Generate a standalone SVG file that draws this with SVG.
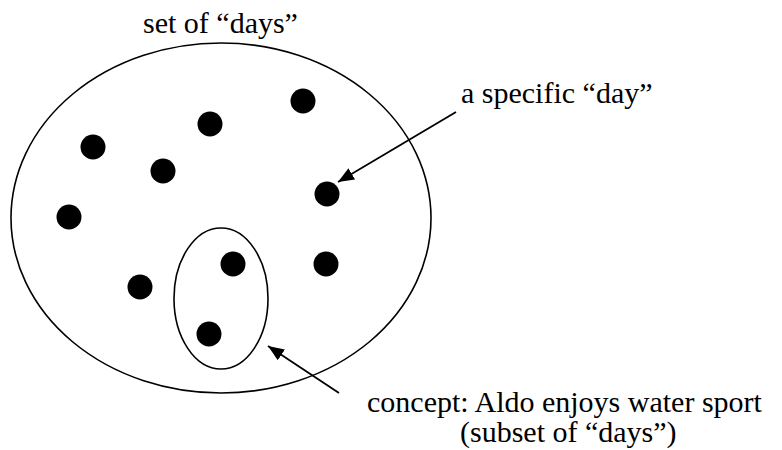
<svg xmlns="http://www.w3.org/2000/svg" width="782" height="450" viewBox="0 0 782 450">
<style>
.set{fill:none;stroke:#000;stroke-width:1.6}
.dot{fill:#000}
.lbl{font-family:"Liberation Serif","Times New Roman",serif;font-size:30px;fill:#000}
.conn{stroke:#000;stroke-width:1.8;fill:none}
</style>
<defs>
<marker id="ah" markerUnits="userSpaceOnUse" markerWidth="18" markerHeight="14" refX="16" refY="6.5" orient="auto">
<path d="M0,0 L16,6.5 L0,13 z" fill="#000"/>
</marker>
</defs>
<rect width="782" height="450" fill="#fff"/>
<g id="days-set">
<ellipse class="set" cx="221" cy="218" rx="210" ry="175"/>
<text class="lbl" x="143" y="33">set of “days”</text>
</g>
<g id="concept-subset">
<ellipse class="set" cx="221" cy="298.5" rx="47" ry="70.5"/>
</g>
<g id="days">
<circle class="dot" cx="303" cy="101" r="12.5"/>
<circle class="dot" cx="210" cy="124" r="12.5"/>
<circle class="dot" cx="93" cy="147" r="12.5"/>
<circle class="dot" cx="163" cy="171" r="12.5"/>
<circle class="dot" cx="327" cy="194" r="12.5"/>
<circle class="dot" cx="69" cy="217" r="12.5"/>
<circle class="dot" cx="233" cy="264" r="12.5"/>
<circle class="dot" cx="326" cy="264" r="12.5"/>
<circle class="dot" cx="140" cy="287" r="12.5"/>
<circle class="dot" cx="209" cy="334" r="12.5"/>
</g>
<g id="label-specific-day">
<text class="lbl" x="461" y="103">a specific “day”</text>
</g>
<g id="label-concept">
<text class="lbl" x="367" y="412">concept: Aldo enjoys water sport</text>
<text class="lbl" x="460" y="442">(subset of “days”)</text>
</g>
<g id="connectors">
<line class="conn" x1="456" y1="112" x2="338" y2="182" marker-end="url(#ah)"/>
<line class="conn" x1="339" y1="393" x2="268" y2="346" marker-end="url(#ah)"/>
</g>
</svg>
